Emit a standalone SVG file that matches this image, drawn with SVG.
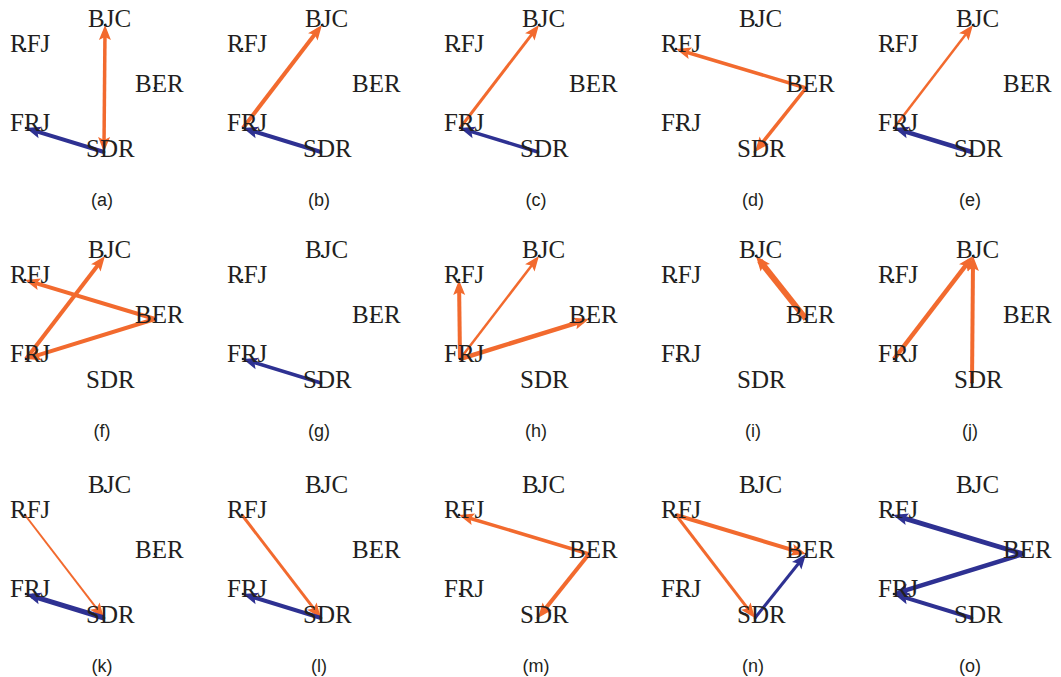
<svg xmlns="http://www.w3.org/2000/svg" width="1061" height="677" viewBox="0 0 1061 677">
<style>
.nl{font-family:"Liberation Serif","Times New Roman",serif;font-size:25px;fill:#231F20}
.cap{font-family:"Liberation Sans",Arial,sans-serif;font-size:18px;fill:#231F20;text-anchor:middle}
.dot{fill:#231F20}
.o{fill:none;stroke:#F26A2E;marker-end:url(#ao)}
.b{fill:none;stroke:#2E3192;marker-end:url(#ab)}
.bi{marker-start:url(#ao)}
</style>
<defs>
<marker id="ao" viewBox="-10 -7 20 14" refX="0" refY="0" markerWidth="20" markerHeight="14" markerUnits="userSpaceOnUse" orient="auto-start-reverse"><path d="M6,0 L-9,-6 L-6,0 L-9,6 Z" fill="#F26A2E"/></marker>
<marker id="ab" viewBox="-10 -7 20 14" refX="0" refY="0" markerWidth="20" markerHeight="14" markerUnits="userSpaceOnUse" orient="auto"><path d="M6,0 L-9,-6 L-6,0 L-9,6 Z" fill="#2E3192"/></marker>
</defs>
<rect width="1061" height="677" fill="#fff"/>

<!-- (a) -->
<g id="panel-a" transform="translate(0,0)">
<g id="a-connectors"><path class="o bi" stroke-width="3.5" d="M104,146 L105,31"/><path class="b" stroke-width="4" d="M104,152 L31.7,129.8"/></g>
<g id="a-BJC"><text class="nl" x="88" y="27">BJC</text><circle class="dot" cx="105" cy="25" r="1.3"/></g>
<g id="a-RFJ"><text class="nl" x="10" y="52">RFJ</text><circle class="dot" cx="25" cy="49" r="1.3"/></g>
<g id="a-BER"><text class="nl" x="135" y="92">BER</text><circle class="dot" cx="155" cy="88" r="1.3"/></g>
<g id="a-FRJ"><text class="nl" x="10" y="131">FRJ</text><circle class="dot" cx="26" cy="128" r="1.3"/></g>
<g id="a-SDR"><text class="nl" x="86" y="157">SDR</text><circle class="dot" cx="104" cy="152" r="1.3"/></g>
<text class="cap" x="102" y="206">(a)</text>
</g>

<!-- (b) -->
<g id="panel-b" transform="translate(217,0)">
<g id="b-connectors"><path class="o" stroke-width="4" d="M26,128 L101.3,29.8"/><path class="b" stroke-width="4" d="M104,152 L31.7,129.8"/></g>
<g id="b-BJC"><text class="nl" x="88" y="27">BJC</text><circle class="dot" cx="105" cy="25" r="1.3"/></g>
<g id="b-RFJ"><text class="nl" x="10" y="52">RFJ</text><circle class="dot" cx="25" cy="49" r="1.3"/></g>
<g id="b-BER"><text class="nl" x="135" y="92">BER</text><circle class="dot" cx="155" cy="88" r="1.3"/></g>
<g id="b-FRJ"><text class="nl" x="10" y="131">FRJ</text><circle class="dot" cx="26" cy="128" r="1.3"/></g>
<g id="b-SDR"><text class="nl" x="86" y="157">SDR</text><circle class="dot" cx="104" cy="152" r="1.3"/></g>
<text class="cap" x="102" y="206">(b)</text>
</g>

<!-- (c) -->
<g id="panel-c" transform="translate(434,0)">
<g id="c-connectors"><path class="o" stroke-width="3" d="M26,128 L101.3,29.8"/><path class="b" stroke-width="3.5" d="M104,152 L31.7,129.8"/></g>
<g id="c-BJC"><text class="nl" x="88" y="27">BJC</text><circle class="dot" cx="105" cy="25" r="1.3"/></g>
<g id="c-RFJ"><text class="nl" x="10" y="52">RFJ</text><circle class="dot" cx="25" cy="49" r="1.3"/></g>
<g id="c-BER"><text class="nl" x="135" y="92">BER</text><circle class="dot" cx="155" cy="88" r="1.3"/></g>
<g id="c-FRJ"><text class="nl" x="10" y="131">FRJ</text><circle class="dot" cx="26" cy="128" r="1.3"/></g>
<g id="c-SDR"><text class="nl" x="86" y="157">SDR</text><circle class="dot" cx="104" cy="152" r="1.3"/></g>
<text class="cap" x="102" y="206">(c)</text>
</g>

<!-- (d) -->
<g id="panel-d" transform="translate(651,0)">
<g id="d-connectors"><path class="o" stroke-width="3.5" d="M155,88 L30.7,50.7"/><path class="o" stroke-width="3.5" d="M155,88 L107.7,147.3"/></g>
<g id="d-BJC"><text class="nl" x="88" y="27">BJC</text><circle class="dot" cx="105" cy="25" r="1.3"/></g>
<g id="d-RFJ"><text class="nl" x="10" y="52">RFJ</text><circle class="dot" cx="25" cy="49" r="1.3"/></g>
<g id="d-BER"><text class="nl" x="135" y="92">BER</text><circle class="dot" cx="155" cy="88" r="1.3"/></g>
<g id="d-FRJ"><text class="nl" x="10" y="131">FRJ</text><circle class="dot" cx="26" cy="128" r="1.3"/></g>
<g id="d-SDR"><text class="nl" x="86" y="157">SDR</text><circle class="dot" cx="104" cy="152" r="1.3"/></g>
<text class="cap" x="102" y="206">(d)</text>
</g>

<!-- (e) -->
<g id="panel-e" transform="translate(868,0)">
<g id="e-connectors"><path class="o" stroke-width="2.5" d="M26,128 L101.3,29.8"/><path class="b" stroke-width="4.5" d="M104,152 L31.7,129.8"/></g>
<g id="e-BJC"><text class="nl" x="88" y="27">BJC</text><circle class="dot" cx="105" cy="25" r="1.3"/></g>
<g id="e-RFJ"><text class="nl" x="10" y="52">RFJ</text><circle class="dot" cx="25" cy="49" r="1.3"/></g>
<g id="e-BER"><text class="nl" x="135" y="92">BER</text><circle class="dot" cx="155" cy="88" r="1.3"/></g>
<g id="e-FRJ"><text class="nl" x="10" y="131">FRJ</text><circle class="dot" cx="26" cy="128" r="1.3"/></g>
<g id="e-SDR"><text class="nl" x="86" y="157">SDR</text><circle class="dot" cx="104" cy="152" r="1.3"/></g>
<text class="cap" x="102" y="206">(e)</text>
</g>

<!-- (f) -->
<g id="panel-f" transform="translate(0,231)">
<g id="f-connectors"><path class="o" stroke-width="4" d="M26,128 L101.3,29.8"/><path class="o" stroke-width="4" d="M155,88 L30.7,50.7"/><path class="o" stroke-width="4" d="M155,88 L31.7,126.2"/></g>
<g id="f-BJC"><text class="nl" x="88" y="27">BJC</text><circle class="dot" cx="105" cy="25" r="1.3"/></g>
<g id="f-RFJ"><text class="nl" x="10" y="52">RFJ</text><circle class="dot" cx="25" cy="49" r="1.3"/></g>
<g id="f-BER"><text class="nl" x="135" y="92">BER</text><circle class="dot" cx="155" cy="88" r="1.3"/></g>
<g id="f-FRJ"><text class="nl" x="10" y="131">FRJ</text><circle class="dot" cx="26" cy="128" r="1.3"/></g>
<g id="f-SDR"><text class="nl" x="86" y="157">SDR</text><circle class="dot" cx="104" cy="152" r="1.3"/></g>
<text class="cap" x="102" y="206">(f)</text>
</g>

<!-- (g) -->
<g id="panel-g" transform="translate(217,231)">
<g id="g-connectors"><path class="b" stroke-width="3.5" d="M104,152 L31.7,129.8"/></g>
<g id="g-BJC"><text class="nl" x="88" y="27">BJC</text><circle class="dot" cx="105" cy="25" r="1.3"/></g>
<g id="g-RFJ"><text class="nl" x="10" y="52">RFJ</text><circle class="dot" cx="25" cy="49" r="1.3"/></g>
<g id="g-BER"><text class="nl" x="135" y="92">BER</text><circle class="dot" cx="155" cy="88" r="1.3"/></g>
<g id="g-FRJ"><text class="nl" x="10" y="131">FRJ</text><circle class="dot" cx="26" cy="128" r="1.3"/></g>
<g id="g-SDR"><text class="nl" x="86" y="157">SDR</text><circle class="dot" cx="104" cy="152" r="1.3"/></g>
<text class="cap" x="102" y="206">(g)</text>
</g>

<!-- (h) -->
<g id="panel-h" transform="translate(434,231)">
<g id="h-connectors"><path class="o" stroke-width="4" d="M26,128 L25.1,55"/><path class="o" stroke-width="2.5" d="M26,128 L101.3,29.8"/><path class="o" stroke-width="4.5" d="M26,128 L149.3,89.8"/></g>
<g id="h-BJC"><text class="nl" x="88" y="27">BJC</text><circle class="dot" cx="105" cy="25" r="1.3"/></g>
<g id="h-RFJ"><text class="nl" x="10" y="52">RFJ</text><circle class="dot" cx="25" cy="49" r="1.3"/></g>
<g id="h-BER"><text class="nl" x="135" y="92">BER</text><circle class="dot" cx="155" cy="88" r="1.3"/></g>
<g id="h-FRJ"><text class="nl" x="10" y="131">FRJ</text><circle class="dot" cx="26" cy="128" r="1.3"/></g>
<g id="h-SDR"><text class="nl" x="86" y="157">SDR</text><circle class="dot" cx="104" cy="152" r="1.3"/></g>
<text class="cap" x="102" y="206">(h)</text>
</g>

<!-- (i) -->
<g id="panel-i" transform="translate(651,231)">
<g id="i-connectors"><path class="o" stroke-width="6" d="M155,88 L108.7,29.7"/></g>
<g id="i-BJC"><text class="nl" x="88" y="27">BJC</text><circle class="dot" cx="105" cy="25" r="1.3"/></g>
<g id="i-RFJ"><text class="nl" x="10" y="52">RFJ</text><circle class="dot" cx="25" cy="49" r="1.3"/></g>
<g id="i-BER"><text class="nl" x="135" y="92">BER</text><circle class="dot" cx="155" cy="88" r="1.3"/></g>
<g id="i-FRJ"><text class="nl" x="10" y="131">FRJ</text><circle class="dot" cx="26" cy="128" r="1.3"/></g>
<g id="i-SDR"><text class="nl" x="86" y="157">SDR</text><circle class="dot" cx="104" cy="152" r="1.3"/></g>
<text class="cap" x="102" y="206">(i)</text>
</g>

<!-- (j) -->
<g id="panel-j" transform="translate(868,231)">
<g id="j-connectors"><path class="o" stroke-width="4.5" d="M26,128 L101.3,29.8"/><path class="o" stroke-width="4" d="M104,152 L105,31"/></g>
<g id="j-BJC"><text class="nl" x="88" y="27">BJC</text><circle class="dot" cx="105" cy="25" r="1.3"/></g>
<g id="j-RFJ"><text class="nl" x="10" y="52">RFJ</text><circle class="dot" cx="25" cy="49" r="1.3"/></g>
<g id="j-BER"><text class="nl" x="135" y="92">BER</text><circle class="dot" cx="155" cy="88" r="1.3"/></g>
<g id="j-FRJ"><text class="nl" x="10" y="131">FRJ</text><circle class="dot" cx="26" cy="128" r="1.3"/></g>
<g id="j-SDR"><text class="nl" x="86" y="157">SDR</text><circle class="dot" cx="104" cy="152" r="1.3"/></g>
<text class="cap" x="102" y="206">(j)</text>
</g>

<!-- (k) -->
<g id="panel-k" transform="translate(0,466)">
<g id="k-connectors"><path class="o" stroke-width="2" d="M25,49 L100.3,147.2"/><path class="b" stroke-width="5" d="M104,152 L31.7,129.8"/></g>
<g id="k-BJC"><text class="nl" x="88" y="27">BJC</text><circle class="dot" cx="105" cy="25" r="1.3"/></g>
<g id="k-RFJ"><text class="nl" x="10" y="52">RFJ</text><circle class="dot" cx="25" cy="49" r="1.3"/></g>
<g id="k-BER"><text class="nl" x="135" y="92">BER</text><circle class="dot" cx="155" cy="88" r="1.3"/></g>
<g id="k-FRJ"><text class="nl" x="10" y="131">FRJ</text><circle class="dot" cx="26" cy="128" r="1.3"/></g>
<g id="k-SDR"><text class="nl" x="86" y="157">SDR</text><circle class="dot" cx="104" cy="152" r="1.3"/></g>
<text class="cap" x="102" y="206">(k)</text>
</g>

<!-- (l) -->
<g id="panel-l" transform="translate(217,466)">
<g id="l-connectors"><path class="o" stroke-width="3" d="M25,49 L100.3,147.2"/><path class="b" stroke-width="4" d="M104,152 L31.7,129.8"/></g>
<g id="l-BJC"><text class="nl" x="88" y="27">BJC</text><circle class="dot" cx="105" cy="25" r="1.3"/></g>
<g id="l-RFJ"><text class="nl" x="10" y="52">RFJ</text><circle class="dot" cx="25" cy="49" r="1.3"/></g>
<g id="l-BER"><text class="nl" x="135" y="92">BER</text><circle class="dot" cx="155" cy="88" r="1.3"/></g>
<g id="l-FRJ"><text class="nl" x="10" y="131">FRJ</text><circle class="dot" cx="26" cy="128" r="1.3"/></g>
<g id="l-SDR"><text class="nl" x="86" y="157">SDR</text><circle class="dot" cx="104" cy="152" r="1.3"/></g>
<text class="cap" x="102" y="206">(l)</text>
</g>

<!-- (m) -->
<g id="panel-m" transform="translate(434,466)">
<g id="m-connectors"><path class="o" stroke-width="3.5" d="M155,88 L30.7,50.7"/><path class="o" stroke-width="4" d="M155,88 L107.7,147.3"/></g>
<g id="m-BJC"><text class="nl" x="88" y="27">BJC</text><circle class="dot" cx="105" cy="25" r="1.3"/></g>
<g id="m-RFJ"><text class="nl" x="10" y="52">RFJ</text><circle class="dot" cx="25" cy="49" r="1.3"/></g>
<g id="m-BER"><text class="nl" x="135" y="92">BER</text><circle class="dot" cx="155" cy="88" r="1.3"/></g>
<g id="m-FRJ"><text class="nl" x="10" y="131">FRJ</text><circle class="dot" cx="26" cy="128" r="1.3"/></g>
<g id="m-SDR"><text class="nl" x="86" y="157">SDR</text><circle class="dot" cx="104" cy="152" r="1.3"/></g>
<text class="cap" x="102" y="206">(m)</text>
</g>

<!-- (n) -->
<g id="panel-n" transform="translate(651,466)">
<g id="n-connectors"><path class="o" stroke-width="4" d="M25,49 L149.3,86.3"/><path class="o" stroke-width="3" d="M25,49 L100.3,147.2"/><path class="b" stroke-width="3" d="M104,152 L151.3,92.7"/></g>
<g id="n-BJC"><text class="nl" x="88" y="27">BJC</text><circle class="dot" cx="105" cy="25" r="1.3"/></g>
<g id="n-RFJ"><text class="nl" x="10" y="52">RFJ</text><circle class="dot" cx="25" cy="49" r="1.3"/></g>
<g id="n-BER"><text class="nl" x="135" y="92">BER</text><circle class="dot" cx="155" cy="88" r="1.3"/></g>
<g id="n-FRJ"><text class="nl" x="10" y="131">FRJ</text><circle class="dot" cx="26" cy="128" r="1.3"/></g>
<g id="n-SDR"><text class="nl" x="86" y="157">SDR</text><circle class="dot" cx="104" cy="152" r="1.3"/></g>
<text class="cap" x="102" y="206">(n)</text>
</g>

<!-- (o) -->
<g id="panel-o" transform="translate(868,466)">
<g id="o-connectors"><path class="b" stroke-width="5" d="M155,88 L30.7,50.7"/><path class="b" stroke-width="4.5" d="M155,88 L31.7,126.2"/><path class="b" stroke-width="4" d="M104,152 L31.7,129.8"/></g>
<g id="o-BJC"><text class="nl" x="88" y="27">BJC</text><circle class="dot" cx="105" cy="25" r="1.3"/></g>
<g id="o-RFJ"><text class="nl" x="10" y="52">RFJ</text><circle class="dot" cx="25" cy="49" r="1.3"/></g>
<g id="o-BER"><text class="nl" x="135" y="92">BER</text><circle class="dot" cx="155" cy="88" r="1.3"/></g>
<g id="o-FRJ"><text class="nl" x="10" y="131">FRJ</text><circle class="dot" cx="26" cy="128" r="1.3"/></g>
<g id="o-SDR"><text class="nl" x="86" y="157">SDR</text><circle class="dot" cx="104" cy="152" r="1.3"/></g>
<text class="cap" x="102" y="206">(o)</text>
</g>
</svg>
